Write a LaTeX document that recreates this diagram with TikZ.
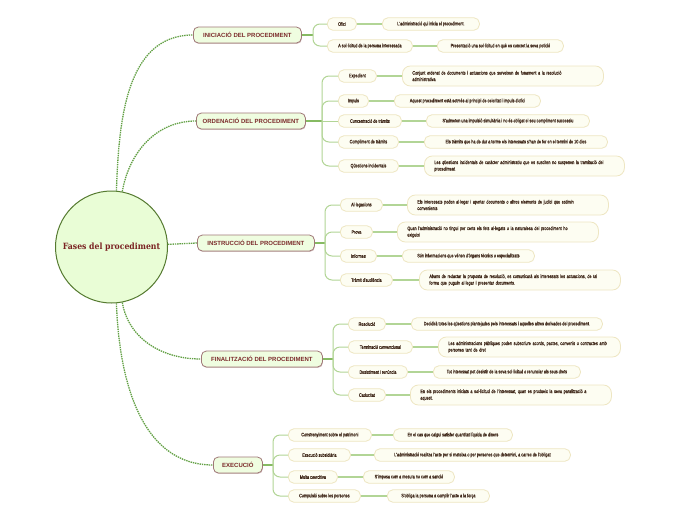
\documentclass[tikz,border=0pt]{standalone}
\usepackage{fontspec}
\usetikzlibrary{shadows}
\newfontfamily\subfnt[FakeStretch=0.75,FakeBold=0.35]{Liberation Sans}
\newfontfamily\phfnt{Liberation Sans}
\newfontfamily\cenfnt[FakeStretch=0.9]{DejaVu Serif}
\definecolor{circfill}{HTML}{E9FDD6}
\definecolor{circdraw}{HTML}{557A30}
\definecolor{centxt}{HTML}{7A2222}
\definecolor{phfill}{HTML}{EFFDE0}
\definecolor{phdraw}{HTML}{A07878}
\definecolor{phtxt}{HTML}{7B2A2A}
\definecolor{subfill}{HTML}{FDFDF2}
\definecolor{subdraw}{HTML}{EEE6C2}
\definecolor{subtxt}{HTML}{3C2416}
\definecolor{dotgreen}{HTML}{62A044}
\definecolor{trunkgreen}{HTML}{86BA62}
\definecolor{branchgreen}{HTML}{B2D596}
\tikzset{
  centre/.style={circle, draw=circdraw, fill=circfill, line width=1pt, minimum size=112pt, inner sep=0pt,
    font=\cenfnt\bfseries\fontsize{8.6}{9}\selectfont, text=centxt},
  phase/.style={draw=phdraw, fill=phfill, line width=0.8pt, rounded corners=5pt, minimum height=16pt,
    inner xsep=6pt, anchor=west, font=\phfnt\bfseries\fontsize{6}{7}\selectfont, text=phtxt,
    drop shadow={shadow xshift=0.5pt, shadow yshift=-0.9pt, fill=phdraw, opacity=0.45}},
  sub/.style={draw=subdraw, fill=subfill, line width=0.8pt, rounded corners=5.5pt, minimum height=12.5pt,
    inner xsep=4pt, inner ysep=1.5pt, anchor=west, font=\subfnt\fontsize{5}{6.5}\selectfont, text=subtxt},
  leaftwo/.style={sub, text width=#1, align=left, inner xsep=10pt, rounded corners=8pt, minimum height=20pt},
  dotlink/.style={draw=dotgreen, line width=1.3pt, dash pattern=on 1.4pt off 0.9pt},
  trunk/.style={draw=trunkgreen, line width=2pt},
  branch/.style={draw=branchgreen, line width=1pt, rounded corners=7pt},
  twig/.style={draw=branchgreen, line width=1.5pt},
}
\begin{document}
\begin{tikzpicture}[x=1pt, y=-1pt]
\useasboundingbox (0,0) rectangle (696,520);
\fill[white] (0,0) rectangle (696,520);

\node[centre] (circ) at (111.5,247) {Fases del procediment};

% phases
\node[phase, minimum width=108pt] (p1) at (193,35) {INICIACIÓ DEL PROCEDIMENT};
\node[phase, minimum width=109pt] (p2) at (196,121) {ORDENACIÓ DEL PROCEDIMENT};
\node[phase, minimum width=117pt] (p3) at (197,243) {INSTRUCCIÓ DEL PROCEDIMENT};
\node[phase, minimum width=121pt] (p4) at (201,359) {FINALITZACIÓ DEL PROCEDIMENT};
\node[phase, minimum width=49pt] (p5) at (213,465) {EXECUCIÓ};

% junctions
\coordinate (j1) at (313,35);
\coordinate (j2) at (322,121);
\coordinate (j3) at (325,243);
\coordinate (j4) at (333,359);
\coordinate (j5) at (273,465);

% Iniciació
\node[sub, minimum width=29pt] (s11) at (327,24) {Ofici};
\node[sub, minimum width=85pt] (s12) at (327,46) {A sol·licitud de la persona interessada};
\node[sub, minimum width=97pt] (l11) at (382,24) {L'administració qui inicia el procediment.};
\node[sub, minimum width=126pt] (l12) at (437,46) {Presentació una sol·licitud en què es concret la seva petició};

% Ordenació
\node[sub, minimum width=38pt] (s21) at (338,76) {Expedient};
\node[sub, minimum width=30pt] (s22) at (338,101) {Impuls};
\node[sub, minimum width=63pt] (s23) at (338,121) {Concentració de tràmits};
\node[sub, minimum width=60pt] (s24) at (338,142) {Compliment de tràmits};
\node[sub, minimum width=60pt] (s25) at (338,166) {Qüestions incidentals};
\node[leaftwo=181pt] (l21) at (402,76) {Conjunt ordenat de documents i actuacions que serveixen de fonament a la resolució\\administrativa};
\node[sub, minimum width=146pt] (l22) at (394,101) {Aquest procediment està sotmès al principi de celeritat i impuls d'ofici};
\node[sub, minimum width=163pt] (l23) at (426,121) {S'admeten una impulsió simultània i no és obligat el seu compliment successiu};
\node[sub, minimum width=183pt] (l24) at (424,142) {Els tràmits que ha de dur a terme els interessats s'han de fer en el termini de 10 dies};
\node[leaftwo=180pt] (l25) at (424,166) {Les qüestions incidentals de caràcter administratiu que es susciten no suspenen la tramitació del\\procediment};

% Instrucció
\node[sub, minimum width=42pt] (s31) at (340,205) {Al·legacions};
\node[sub, minimum width=32pt] (s32) at (340,232) {Prova};
\node[sub, minimum width=36pt] (s33) at (340,256) {Informes};
\node[sub, minimum width=52pt] (s34) at (340,280) {Tràmit d'audiència};
\node[leaftwo=181pt] (l31) at (407,205) {Els interessats poden al·legar i aportar documents o altres elements de judici que estimin\\convenients};
\node[leaftwo=181pt] (l32) at (397,232) {Quan l'administració no tingui per certs els fets al·legats o la naturalesa del procediment ho\\exigeixi};
\node[sub, minimum width=132pt] (l33) at (402,256) {Són informacions que vénen d'òrgans tècnics o especialitzats};
\node[leaftwo=181pt] (l34) at (419,280) {Abans de redactar la proposta de resolució, es comunicarà als interessats les actuacions, de tal\\forma que puguin al·legar i presentar documents.};

% Finalització
\node[sub, minimum width=37pt] (s41) at (348,324) {Resolució};
\node[sub, minimum width=64pt] (s42) at (348,347) {Terminació convencional};
\node[sub, minimum width=59pt] (s43) at (348,372) {Desistiment i renúncia};
\node[sub, minimum width=37pt] (s44) at (348,395) {Caducitat};
\node[sub, minimum width=191pt] (l41) at (411,324) {Decidirà totes les qüestions plantejades pels interessats i aquelles altres derivades del procediment.};
\node[leaftwo=162pt] (l42) at (438,347) {Les administracions públiques poden subscriure acords, pactes, convenis o contractes amb\\persones tant de dret};
\node[sub, minimum width=147pt] (l43) at (433,372) {Tot interessat pot desistir de la seva sol·licitud o renunciar als seus drets};
\node[leaftwo=181pt] (l44) at (410,395) {En els procediments iniciats a sol·licitud de l'interessat, quan es produeix la seva paralització a\\aquest.};

% Execució
\node[sub, minimum width=83pt] (s51) at (288,435) {Constrenyiment sobre el patrimoni};
\node[sub, minimum width=62pt] (s52) at (288,455) {Execució subsidiària};
\node[sub, minimum width=49pt] (s53) at (288,477) {Multa coercitiva};
\node[sub, minimum width=72pt] (s54) at (288,496) {Compulsió sobre les persones};
\node[sub, minimum width=119pt] (l51) at (393,435) {En el cas que calgui satisfer quantitat líquida de diners};
\node[sub, minimum width=196pt] (l52) at (374,455) {L'administració realitza l'acte per si mateixa o per persones que determini, a carrec de l'obligat};
\node[sub, minimum width=91pt] (l53) at (363,477) {S'imposa com a mesura no com a sanció};
\node[sub, minimum width=102pt] (l54) at (387,496) {S'obliga la persona a complir l'acte a la força};

% centre to phases
\draw[dotlink] (circ.85) to[out=88, in=180] (p1.west);
\draw[dotlink] (circ.79) to[out=80, in=180] (p2.west);
\draw[dotlink] (circ) -- (p3.west);
\draw[dotlink] (circ.-79) to[out=-80, in=180] (p4.west);
\draw[dotlink] (circ.-85) to[out=-88, in=180] (p5.west);

% trunks
\draw[trunk] (p1.east) -- (j1);
\draw[trunk] (p2.east) -- (j2);
\draw[trunk] (p3.east) -- (j3);
\draw[trunk] (p4.east) -- (j4);
\draw[trunk] (p5.east) -- (j5);

% branches
\draw[branch] (j1) |- (s11.west);
\draw[branch] (j1) |- (s12.west);
\draw[branch] (j2) |- (s21.west);
\draw[branch] (j2) |- (s22.west);
\draw[branch] (j2) -- (s23.west);
\draw[branch] (j2) |- (s24.west);
\draw[branch] (j2) |- (s25.west);
\draw[branch] (j3) |- (s31.west);
\draw[branch] (j3) |- (s32.west);
\draw[branch] (j3) |- (s33.west);
\draw[branch] (j3) |- (s34.west);
\draw[branch] (j4) |- (s41.west);
\draw[branch] (j4) |- (s42.west);
\draw[branch] (j4) |- (s43.west);
\draw[branch] (j4) |- (s44.west);
\draw[branch] (j5) |- (s51.west);
\draw[branch] (j5) |- (s52.west);
\draw[branch] (j5) |- (s53.west);
\draw[branch] (j5) |- (s54.west);

% twigs
\draw[twig] (s11.east) -- (l11.west);
\draw[twig] (s12.east) -- (l12.west);
\draw[twig] (s21.east) -- (l21.west);
\draw[twig] (s22.east) -- (l22.west);
\draw[twig] (s23.east) -- (l23.west);
\draw[twig] (s24.east) -- (l24.west);
\draw[twig] (s25.east) -- (l25.west);
\draw[twig] (s31.east) -- (l31.west);
\draw[twig] (s32.east) -- (l32.west);
\draw[twig] (s33.east) -- (l33.west);
\draw[twig] (s34.east) -- (l34.west);
\draw[twig] (s41.east) -- (l41.west);
\draw[twig] (s42.east) -- (l42.west);
\draw[twig] (s43.east) -- (l43.west);
\draw[twig] (s44.east) -- (l44.west);
\draw[twig] (s51.east) -- (l51.west);
\draw[twig] (s52.east) -- (l52.west);
\draw[twig] (s53.east) -- (l53.west);
\draw[twig] (s54.east) -- (l54.west);
\end{tikzpicture}
\end{document}
